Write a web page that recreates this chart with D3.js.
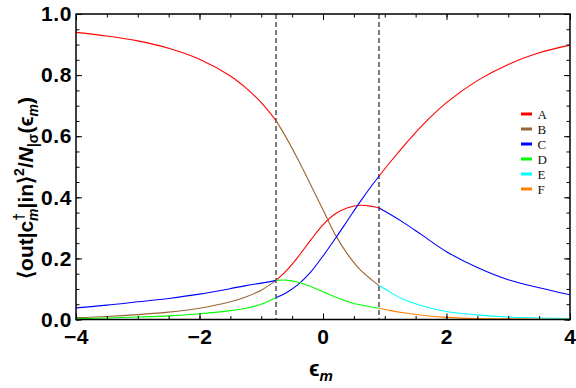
<!DOCTYPE html>
<html>
<head>
<meta charset="utf-8">
<script src="https://cdn.jsdelivr.net/npm/d3@7"></script>
<style>
  body { margin: 0; background: #fff; }
  svg { display: block; }
</style>
</head>
<body>
<div id="root"></div>
<script>
const width = 576;
const height = 388;

// x grids for the three regions split by the dashed lines
const dividers = [-0.76, 0.907];
const xLeft = [-4, -3.5, -3, -2.5, -2, -1.5, -1.25, -1, -0.76];
const xMid = [-0.76, -0.6, -0.4, -0.2, 0, 0.2, 0.4, 0.6, 0.8, 0.907];
const xRight = [0.907, 1.1, 1.3, 1.6, 2, 2.5, 3, 3.5, 4];

// values
const aLeft = [0.940, 0.928, 0.912, 0.888, 0.852, 0.797, 0.758, 0.710, 0.651];
const aMid = [0.128, 0.158, 0.206, 0.260, 0.310, 0.346, 0.366, 0.374, 0.370, 0.365];
const aRight = [0.469, 0.518, 0.566, 0.634, 0.710, 0.782, 0.835, 0.873, 0.898];
const bLeft = [0.006, 0.010, 0.016, 0.024, 0.037, 0.058, 0.074, 0.096, 0.128];
const bMid = [0.651, 0.597, 0.522, 0.441, 0.359, 0.277, 0.213, 0.163, 0.128, 0.111];
const cLeft = [0.038, 0.047, 0.058, 0.069, 0.083, 0.101, 0.111, 0.119, 0.128];
const cMid = [0.072, 0.087, 0.115, 0.155, 0.208, 0.265, 0.325, 0.385, 0.441, 0.469];
const cRight = [0.365, 0.343, 0.318, 0.277, 0.222, 0.170, 0.130, 0.104, 0.081];
const dLeft = [0.003, 0.005, 0.008, 0.012, 0.019, 0.029, 0.037, 0.050, 0.072];
const dMid = [0.128, 0.129, 0.122, 0.108, 0.091, 0.074, 0.058, 0.048, 0.040, 0.037];
const eRight = [0.111, 0.088, 0.066, 0.045, 0.026, 0.015, 0.008, 0.005, 0.003];
const fRight = [0.037, 0.029, 0.022, 0.014, 0.007, 0.003, 0.002, 0.001, 0.001];

const legendLabels = ["A", "B", "C", "D", "E", "F"];
const colors = ["#ff0000", "#996633", "#0000ff", "#00ff00", "#00ffff", "#ff8000"];

const xMajor = [-4, -2, 0, 2, 4];
const yMajor = [0, 0.2, 0.4, 0.6, 0.8, 1.0];

const segments = [
  { xs: xLeft, ys: aLeft, c: 0 }, { xs: xMid, ys: aMid, c: 0 }, { xs: xRight, ys: aRight, c: 0 },
  { xs: xLeft, ys: bLeft, c: 1 }, { xs: xMid, ys: bMid, c: 1 },
  { xs: xLeft, ys: cLeft, c: 2 }, { xs: xMid, ys: cMid, c: 2 }, { xs: xRight, ys: cRight, c: 2 },
  { xs: xLeft, ys: dLeft, c: 3 }, { xs: xMid, ys: dMid, c: 3 },
  { xs: xRight, ys: eRight, c: 4 },
  { xs: xRight, ys: fRight, c: 5 }
];

const x = d3.scaleLinear().domain([-4, 4]).range([76, 570]);
const y = d3.scaleLinear().domain([0, 1]).range([319.5, 14]);

const svg = d3.select("#root")
  .append("svg")
    .attr("width", width)
    .attr("height", height);

const line = d3.line()
  .x(d => x(d[0]))
  .y(d => y(d[1]))
  .curve(d3.curveCatmullRom.alpha(0.5));

// dashed verticals
svg.append("g")
  .selectAll("line")
  .data(dividers)
  .enter().append("line")
    .attr("x1", d => x(d)).attr("x2", d => x(d))
    .attr("y1", y(1)).attr("y2", y(0))
    .attr("stroke", "#7a7a7a")
    .attr("stroke-width", 2)
    .attr("stroke-dasharray", "5,3");

svg.append("g")
  .selectAll("path")
  .data(segments)
  .enter().append("path")
    .attr("fill", "none")
    .attr("stroke", d => colors[d.c])
    .attr("stroke-width", 1.1)
    .attr("d", d => line(d.xs.map((v, i) => [v, d.ys[i]])));

// axes
const font = "'Liberation Sans', Arial, sans-serif";
const xMinor = d3.range(-4, 4.01, 0.5);
const yMinor = d3.range(0, 1.001, 0.05);

const styleAxis = (g) => {
  g.select(".domain").remove();
  g.selectAll("line").attr("stroke", "#000").attr("stroke-width", 1);
  g.selectAll("text")
    .attr("fill", "#000")
    .style("font-family", font)
    .style("font-weight", "bold")
    .style("font-size", "21px")
    .style("letter-spacing", "0.6px");
};

svg.append("g").attr("transform", `translate(0,${y(0)})`)
  .call(d3.axisBottom(x).tickValues(xMajor).tickSizeInner(-6).tickSizeOuter(0).tickPadding(10).tickFormat(d3.format("d")))
  .call(styleAxis);
svg.append("g").attr("transform", `translate(0,${y(0)})`)
  .call(d3.axisBottom(x).tickValues(xMinor).tickSizeInner(-3.5).tickSizeOuter(0).tickFormat(""))
  .call(styleAxis);
svg.append("g").attr("transform", `translate(0,${y(1)})`)
  .call(d3.axisTop(x).tickValues(xMajor).tickSizeInner(-6).tickSizeOuter(0).tickFormat(""))
  .call(styleAxis);
svg.append("g").attr("transform", `translate(0,${y(1)})`)
  .call(d3.axisTop(x).tickValues(xMinor).tickSizeInner(-3.5).tickSizeOuter(0).tickFormat(""))
  .call(styleAxis);

svg.append("g").attr("transform", `translate(${x(-4)},0)`)
  .call(d3.axisLeft(y).tickValues(yMajor).tickSizeInner(-6).tickSizeOuter(0).tickPadding(4).tickFormat(d3.format(".1f")))
  .call(styleAxis);
svg.append("g").attr("transform", `translate(${x(-4)},0)`)
  .call(d3.axisLeft(y).tickValues(yMinor).tickSizeInner(-3.5).tickSizeOuter(0).tickFormat(""))
  .call(styleAxis);
svg.append("g").attr("transform", `translate(${x(4)},0)`)
  .call(d3.axisRight(y).tickValues(yMajor).tickSizeInner(-6).tickSizeOuter(0).tickFormat(""))
  .call(styleAxis);
svg.append("g").attr("transform", `translate(${x(4)},0)`)
  .call(d3.axisRight(y).tickValues(yMinor).tickSizeInner(-3.5).tickSizeOuter(0).tickFormat(""))
  .call(styleAxis);

// frame
svg.append("rect")
  .attr("x", x(-4)).attr("y", y(1))
  .attr("width", x(4) - x(-4)).attr("height", y(0) - y(1))
  .attr("fill", "none")
  .attr("stroke", "#000")
  .attr("stroke-width", 1.5);

// x title
const xt = svg.append("text")
  .attr("x", 321).attr("y", 376)
  .attr("text-anchor", "middle")
  .style("font-family", font)
  .style("font-weight", "bold")
  .style("font-size", "22px");
xt.append("tspan").text("ϵ");
xt.append("tspan").attr("dy", 5).style("font-size", "15px").style("font-style", "italic").text("m");

// y title
const yt = svg.append("text")
  .attr("transform", "translate(33,188) rotate(-90)")
  .attr("text-anchor", "middle")
  .style("font-family", font)
  .style("font-weight", "bold")
  .style("font-size", "21px");
yt.append("tspan").text("⟨out|c");
yt.append("tspan").attr("dy", -9).style("font-size", "14px").text("†");
yt.append("tspan").attr("dx", -8).attr("dy", 14).style("font-size", "14px").style("font-style", "italic").text("m");
yt.append("tspan").attr("dy", -5).text("|in⟩");
yt.append("tspan").attr("dy", -9).style("font-size", "14px").text("2");
yt.append("tspan").attr("dy", 9).text("/");
yt.append("tspan").style("font-style", "italic").text("N");
yt.append("tspan").attr("dy", 5).style("font-size", "14px").text("|σ");
yt.append("tspan").attr("dy", -5).text("(ϵ");
yt.append("tspan").attr("dy", 5).style("font-size", "14px").style("font-style", "italic").text("m");
yt.append("tspan").attr("dy", -5).text(")");

// legend
const legend = svg.append("g")
  .selectAll("g")
  .data(legendLabels)
  .enter().append("g")
    .attr("transform", (d, i) => `translate(521,${114 + 15 * i})`);

legend.append("rect")
  .attr("x", 0).attr("y", -1.5)
  .attr("width", 11).attr("height", 3)
  .attr("fill", (d, i) => colors[i]);

legend.append("text")
  .attr("x", 16.5).attr("y", 4.5)
  .style("font-family", "'Liberation Serif', 'Times New Roman', serif")
  .style("font-size", "13px")
  .attr("fill", "#111")
  .text(d => d);
</script>
</body>
</html>
